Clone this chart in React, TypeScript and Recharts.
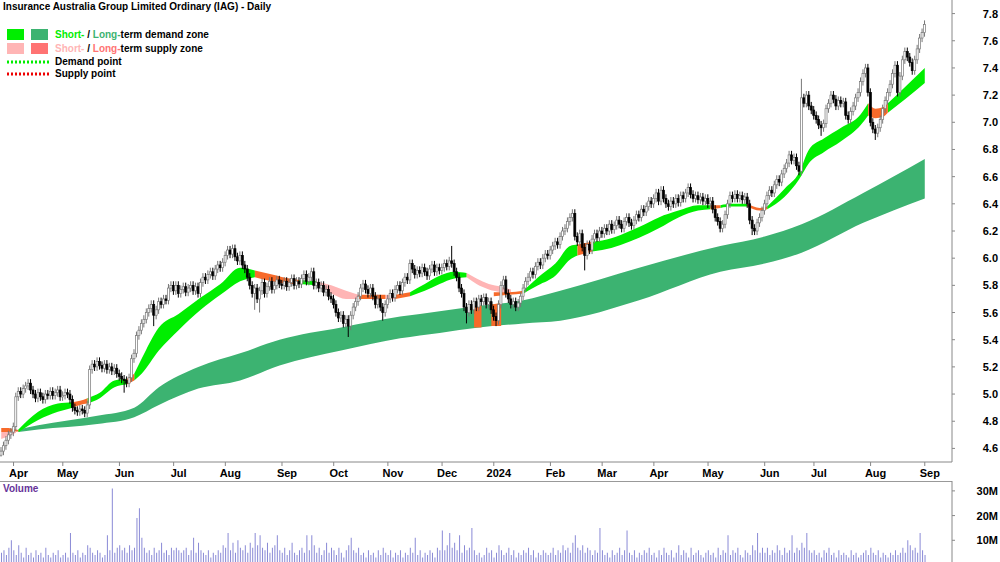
import React from "react"
import { Area, Bar, ComposedChart, XAxis, YAxis } from "recharts"

// daily closes, one list per month
const mar23 = [4.58, 4.62, 4.66, 4.70, 4.72]
const apr23 = [4.76, 4.98, 5.02, 5.00, 5.04, 5.06, 5.08, 5.03, 5.00, 4.97, 5.01, 4.98, 4.96, 5.00, 4.99, 5.02, 4.99, 5.01, 5.03, 4.98]
const may23 = [4.99, 5.01, 5.00, 4.96, 4.90, 4.88, 4.87, 4.89, 4.88, 4.86, 4.92, 5.18, 5.22, 5.20, 5.24, 5.21, 5.19, 5.22, 5.18, 5.20, 5.17, 5.19, 5.15]
const jun23 = [5.13, 5.11, 5.10, 5.08, 5.12, 5.26, 5.30, 5.43, 5.47, 5.52, 5.55, 5.60, 5.63, 5.66, 5.58, 5.62, 5.68, 5.66, 5.70, 5.69, 5.78, 5.80]
const jul23 = [5.76, 5.80, 5.74, 5.77, 5.79, 5.75, 5.78, 5.80, 5.76, 5.79, 5.74, 5.82, 5.86, 5.84, 5.88, 5.90, 5.87, 5.92, 5.95, 5.93, 5.97]
const aug23 = [6.02, 6.06, 6.03, 6.07, 6.01, 5.98, 6.02, 5.95, 5.92, 5.86, 5.80, 5.74, 5.78, 5.70, 5.76, 5.82, 5.74, 5.79, 5.83, 5.77, 5.80, 5.84, 5.81]
const sep23 = [5.80, 5.83, 5.79, 5.82, 5.85, 5.80, 5.83, 5.81, 5.85, 5.88, 5.83, 5.86, 5.90, 5.80, 5.82, 5.78, 5.80, 5.75, 5.77, 5.72, 5.70]
const oct23 = [5.66, 5.60, 5.56, 5.58, 5.52, 5.55, 5.50, 5.58, 5.64, 5.68, 5.72, 5.78, 5.81, 5.77, 5.74, 5.78, 5.72, 5.66, 5.70, 5.64, 5.60, 5.66]
const nov23 = [5.70, 5.74, 5.71, 5.77, 5.80, 5.76, 5.82, 5.86, 5.84, 5.96, 5.92, 5.88, 5.91, 5.89, 5.93, 5.90, 5.87, 5.92, 5.95, 5.90, 5.93, 5.91]
const dec23 = [5.93, 5.96, 5.94, 5.98, 5.96, 5.90, 5.86, 5.78, 5.74, 5.64, 5.60, 5.66, 5.62, 5.68, 5.64, 5.70, 5.68, 5.71, 5.66, 5.68, 5.62]
const jan24 = [5.57, 5.54, 5.66, 5.80, 5.84, 5.74, 5.70, 5.66, 5.68, 5.64, 5.67, 5.72, 5.78, 5.83, 5.86, 5.90, 5.88, 5.94, 5.97, 5.95, 6.00, 6.03, 6.02]
const feb24 = [6.06, 6.09, 6.12, 6.10, 6.16, 6.20, 6.22, 6.27, 6.30, 6.33, 6.16, 6.12, 6.18, 6.08, 6.02, 6.10, 6.06, 6.14, 6.18, 6.15, 6.20]
const mar24 = [6.18, 6.22, 6.20, 6.25, 6.21, 6.24, 6.28, 6.25, 6.22, 6.27, 6.30, 6.26, 6.24, 6.28, 6.32, 6.30, 6.36, 6.34, 6.38, 6.42, 6.40]
const apr24 = [6.44, 6.48, 6.42, 6.50, 6.44, 6.40, 6.38, 6.42, 6.40, 6.44, 6.41, 6.46, 6.44, 6.48, 6.52, 6.47, 6.44, 6.46, 6.43, 6.45, 6.42, 6.44]
const may24 = [6.40, 6.42, 6.36, 6.30, 6.27, 6.22, 6.25, 6.32, 6.40, 6.46, 6.44, 6.47, 6.44, 6.46, 6.43, 6.45, 6.40, 6.28, 6.22, 6.20, 6.26, 6.30, 6.35]
const jun24 = [6.40, 6.46, 6.50, 6.48, 6.54, 6.58, 6.56, 6.62, 6.66, 6.70, 6.76, 6.72, 6.74, 6.68, 6.64, 7.18, 7.14, 7.20, 7.12, 7.09]
const jul24 = [7.05, 7.02, 6.98, 6.96, 6.99, 7.10, 7.14, 7.20, 7.17, 7.12, 7.16, 7.14, 7.15, 7.05, 7.02, 7.08, 7.12, 7.18, 7.22, 7.30, 7.36, 7.40, 7.22]
const aug24 = [7.00, 6.95, 6.92, 6.96, 7.02, 7.10, 7.16, 7.22, 7.28, 7.36, 7.42, 7.22, 7.34, 7.46, 7.52, 7.48, 7.44, 7.38, 7.46, 7.54, 7.62, 7.66]
const sep24 = [7.72]

// daily volume in millions, same months
const volMar23 = [5, 6, 4, 7, 10]
const volApr23 = [6, 4, 8, 5, 3, 7, 4, 5, 3, 6, 4, 5, 3, 7, 4, 3, 5, 4, 6, 3]
const volMay23 = [4, 5, 3, 13, 5, 4, 6, 3, 5, 4, 8, 7, 5, 4, 6, 5, 3, 4, 12, 6, 31, 5, 7]
const volJun23 = [8, 6, 7, 5, 8, 6, 7, 19, 23, 11, 7, 5, 6, 4, 7, 5, 6, 9, 5, 6, 4, 7]
const volJul23 = [6, 7, 6, 5, 6, 7, 4, 6, 11, 5, 9, 6, 5, 4, 6, 3, 5, 4, 6, 5, 8]
const volAug23 = [7, 13, 6, 9, 5, 10, 7, 6, 8, 5, 9, 7, 13, 8, 12, 7, 6, 9, 5, 7, 8, 12, 6]
const volSep23 = [5, 7, 4, 6, 9, 5, 4, 6, 7, 5, 12, 6, 12, 8, 5, 7, 4, 6, 9, 5, 7]
const volOct23 = [6, 4, 7, 5, 3, 6, 8, 11, 6, 5, 7, 4, 5, 3, 6, 4, 5, 3, 6, 4, 7, 5]
const volNov23 = [4, 6, 3, 5, 4, 6, 3, 5, 4, 7, 5, 11, 4, 6, 3, 5, 4, 6, 5, 3, 7, 6]
const volDec23 = [14, 6, 8, 13, 7, 9, 6, 12, 5, 8, 6, 7, 15, 6, 4, 5, 3, 4, 7, 5, 6]
const volJan24 = [3, 5, 8, 6, 4, 5, 7, 4, 6, 3, 5, 4, 6, 5, 7, 4, 6, 3, 5, 4, 6, 5, 4]
const volFeb24 = [5, 7, 4, 6, 5, 8, 6, 7, 5, 9, 12, 7, 6, 8, 5, 7, 6, 4, 6, 5, 15]
const volMar24 = [6, 4, 5, 3, 6, 4, 5, 7, 4, 6, 14, 5, 4, 6, 3, 5, 4, 6, 5, 7, 4]
const volApr24 = [5, 3, 6, 4, 7, 5, 4, 6, 3, 5, 8, 4, 6, 5, 3, 7, 4, 5, 6, 4, 3, 5]
const volMay24 = [6, 4, 5, 3, 7, 4, 6, 5, 12, 4, 6, 5, 7, 4, 3, 6, 5, 4, 8, 6, 13, 5, 7]
const volJun24 = [5, 7, 4, 6, 5, 8, 6, 4, 7, 5, 6, 12, 5, 7, 6, 9, 7, 13, 6, 5]
const volJul24 = [6, 4, 5, 3, 6, 5, 7, 4, 5, 3, 6, 4, 5, 4, 3, 6, 4, 5, 3, 4, 5, 6, 4]
const volAug24 = [7, 5, 4, 6, 3, 5, 4, 3, 5, 4, 6, 4, 5, 7, 5, 10, 8, 6, 7, 5, 13, 6]
const volSep24 = [4]

// candles with a long tail: [date, high, low]
const longWicks: [string, number | null, number | null][] = [
    ["2023-03-27", null, 4.54],
    ["2023-06-05", null, 5.01],
    ["2023-06-21", null, 5.50],
    ["2023-08-17", null, 5.62],
    ["2023-08-21", null, 5.60],
    ["2023-10-10", null, 5.42],
    ["2023-10-30", null, 5.54],
    ["2023-12-07", 6.09, null],
    ["2023-12-15", null, 5.52],
    ["2024-01-02", null, 5.50],
    ["2024-02-21", null, 5.91],
    ["2024-05-27", null, 6.17],
    ["2024-06-24", 7.32, null],
    ["2024-07-04", null, 6.90],
    ["2024-08-05", null, 6.87],
]

// zones: [date, low, high]
type Pt = [string, number, number]
const ltDemand: Pt[] = [
    ["2023-04-05", 4.72, 4.74], ["2023-04-17", 4.74, 4.77], ["2023-05-19", 4.78, 4.84],
    ["2023-06-09", 4.83, 4.90], ["2023-06-23", 4.92, 5.05], ["2023-07-17", 5.04, 5.20],
    ["2023-08-09", 5.10, 5.30], ["2023-08-31", 5.21, 5.40], ["2023-10-05", 5.32, 5.49],
    ["2023-11-08", 5.41, 5.57], ["2023-11-30", 5.45, 5.61], ["2023-12-22", 5.49, 5.65],
    ["2024-01-17", 5.52, 5.69], ["2024-02-07", 5.54, 5.76], ["2024-03-22", 5.69, 5.93],
    ["2024-05-08", 5.90, 6.09], ["2024-06-03", 5.96, 6.16], ["2024-06-24", 6.04, 6.25],
    ["2024-07-29", 6.26, 6.48], ["2024-09-02", 6.44, 6.73],
]
const ltSupplyStart: Pt[] = [["2023-03-27", 4.72, 4.75], ["2023-03-30", 4.72, 4.75], ["2023-04-05", 4.725, 4.735]]
const ltSupplyDec: Pt[] = [["2023-12-20", 5.49, 5.65], ["2023-12-25", 5.49, 5.65]]
const ltSupplyJan: Pt[] = [["2023-12-29", 5.50, 5.66], ["2024-01-04", 5.50, 5.67]]

const stSupplyStart: Pt[] = [["2023-03-27", 4.67, 4.72], ["2023-03-30", 4.69, 4.72], ["2023-04-04", 4.715, 4.725]]
const stSupplySep: Pt[] = [["2023-09-21", 5.80, 5.83], ["2023-09-29", 5.74, 5.80], ["2023-10-09", 5.70, 5.76], ["2023-10-16", 5.70, 5.73]]
const stSupplyNov: Pt[] = [["2023-10-31", 5.70, 5.73], ["2023-11-06", 5.70, 5.73]]
const stSupplyDec: Pt[] = [["2023-12-15", 5.86, 5.89], ["2023-12-21", 5.81, 5.85], ["2023-12-28", 5.77, 5.81], ["2024-01-04", 5.75, 5.79], ["2024-01-10", 5.74, 5.77]]

const stDemandApr23: Pt[] = [["2023-04-05", 4.72, 4.74], ["2023-04-17", 4.81, 4.87], ["2023-04-27", 4.87, 4.93], ["2023-05-05", 4.90, 4.94]]
const stDemandMay23: Pt[] = [["2023-05-15", 4.93, 4.97], ["2023-05-22", 4.97, 5.01], ["2023-05-30", 5.05, 5.10], ["2023-06-06", 5.07, 5.11]]
const stDemandJun23: Pt[] = [
    ["2023-06-09", 5.10, 5.15], ["2023-06-14", 5.15, 5.26], ["2023-06-23", 5.32, 5.49], ["2023-07-05", 5.47, 5.59],
    ["2023-07-18", 5.62, 5.71], ["2023-07-28", 5.73, 5.81], ["2023-08-09", 5.83, 5.93], ["2023-08-17", 5.86, 5.91],
]
const stDemandSep23: Pt[] = [["2023-09-12", 5.81, 5.84], ["2023-09-21", 5.80, 5.83]]
const stDemandNov23: Pt[] = [["2023-11-14", 5.72, 5.75], ["2023-11-22", 5.76, 5.81], ["2023-11-30", 5.81, 5.87], ["2023-12-08", 5.85, 5.90], ["2023-12-15", 5.86, 5.89]]
const stDemandJan24: Pt[] = [["2024-01-17", 5.74, 5.76], ["2024-01-25", 5.80, 5.86], ["2024-02-05", 5.87, 5.96], ["2024-02-13", 5.99, 6.09], ["2024-02-16", 6.02, 6.10]]
const stDemandFeb24: Pt[] = [
    ["2024-02-26", 6.05, 6.12], ["2024-03-01", 6.06, 6.13], ["2024-03-22", 6.15, 6.23], ["2024-04-03", 6.22, 6.30],
    ["2024-04-15", 6.30, 6.35], ["2024-04-25", 6.35, 6.39], ["2024-05-02", 6.36, 6.39],
]
const stDemandMay24: Pt[] = [["2024-05-08", 6.37, 6.39], ["2024-05-15", 6.38, 6.40], ["2024-05-23", 6.38, 6.40]]
const stDemandJun24: Pt[] = [
    ["2024-06-04", 6.36, 6.38], ["2024-06-13", 6.45, 6.51], ["2024-06-21", 6.58, 6.63], ["2024-06-27", 6.70, 6.80],
    ["2024-07-05", 6.78, 6.88], ["2024-07-16", 6.86, 6.96], ["2024-07-26", 6.98, 7.06], ["2024-07-31", 7.05, 7.14],
]
const stDemandAug24: Pt[] = [["2024-08-12", 7.07, 7.14], ["2024-08-21", 7.17, 7.26], ["2024-09-02", 7.29, 7.40]]

const stWeakMay23: Pt[] = [["2023-05-05", 4.90, 4.94], ["2023-05-10", 4.92, 4.95], ["2023-05-15", 4.93, 4.97]]
const stWeakJun23: Pt[] = [["2023-06-06", 5.07, 5.11], ["2023-06-09", 5.10, 5.15]]
const stWeakAug23: Pt[] = [["2023-08-17", 5.86, 5.91], ["2023-08-28", 5.83, 5.88], ["2023-09-06", 5.81, 5.85], ["2023-09-12", 5.81, 5.84]]
const stWeakOct23: Pt[] = [["2023-10-16", 5.70, 5.73], ["2023-10-23", 5.70, 5.73], ["2023-10-31", 5.70, 5.73]]
const stWeakNov23: Pt[] = [["2023-11-06", 5.70, 5.73], ["2023-11-14", 5.72, 5.75]]
const stWeakJan24: Pt[] = [["2024-01-01", 5.72, 5.75], ["2024-01-09", 5.73, 5.75], ["2024-01-17", 5.74, 5.76]]
const stWeakFeb24: Pt[] = [["2024-02-16", 6.02, 6.10], ["2024-02-26", 6.05, 6.12]]
const stWeakMay24a: Pt[] = [["2024-05-02", 6.36, 6.39], ["2024-05-08", 6.37, 6.39]]
const stWeakMay24b: Pt[] = [["2024-05-23", 6.38, 6.40], ["2024-05-30", 6.35, 6.37], ["2024-06-04", 6.36, 6.38]]
const stWeakAug24: Pt[] = [["2024-07-31", 7.05, 7.14], ["2024-08-05", 7.03, 7.10], ["2024-08-08", 7.04, 7.11], ["2024-08-12", 7.07, 7.14]]

const priceTicks = [4.6, 4.8, 5.0, 5.2, 5.4, 5.6, 5.8, 6.0, 6.2, 6.4, 6.6, 6.8, 7.0, 7.2, 7.4, 7.6, 7.8]
const volumeTicks = [10, 20, 30]
const monthNames = ["Jan", "Feb", "Mar", "Apr", "May", "Jun", "Jul", "Aug", "Sep", "Oct", "Nov", "Dec"]

const GREEN = "#00ee00"
const DARK = "#3cb371"
const PINK = "#ffb5b5"
const SALMON = "#ff7373"
const ORANGE = "#f76a2a"
const FONT = "'Liberation Sans', Arial, sans-serif"

const closes = [mar23, apr23, may23, jun23, jul23, aug23, sep23, oct23, nov23, dec23, jan24, feb24, mar24, apr24, may24, jun24, jul24, aug24, sep24].flat()
const volumes = [volMar23, volApr23, volMay23, volJun23, volJul23, volAug23, volSep23, volOct23, volNov23, volDec23, volJan24, volFeb24, volMar24, volApr24, volMay24, volJun24, volJul24, volAug24, volSep24].flat()

const zones: { pts: Pt[]; color: string; curve: "monotone" | "linear" }[] = [
    { pts: ltDemand, color: DARK, curve: "monotone" },
    { pts: ltSupplyStart, color: ORANGE, curve: "linear" },
    { pts: stSupplyStart, color: PINK, curve: "linear" },
    { pts: ltSupplyDec, color: ORANGE, curve: "linear" },
    { pts: ltSupplyJan, color: ORANGE, curve: "linear" },
    ...[stDemandApr23, stDemandMay23, stDemandJun23, stDemandSep23, stDemandNov23, stDemandJan24, stDemandFeb24, stDemandMay24, stDemandJun24, stDemandAug24]
        .map((pts) => ({ pts, color: GREEN, curve: "monotone" as const })),
    ...[stSupplySep, stSupplyNov, stSupplyDec].map((pts) => ({ pts, color: PINK, curve: "monotone" as const })),
    ...[stWeakMay23, stWeakJun23, stWeakAug23, stWeakOct23, stWeakNov23, stWeakJan24, stWeakFeb24, stWeakMay24a, stWeakMay24b, stWeakAug24]
        .map((pts) => ({ pts, color: ORANGE, curve: "monotone" as const })),
]

function tradingDays(start: string, n: number) {
    const out: string[] = []
    const d = new Date(start + "T00:00:00Z")
    while (out.length < n) {
        const wd = d.getUTCDay()
        if (wd !== 0 && wd !== 6) out.push(d.toISOString().slice(0, 10))
        d.setUTCDate(d.getUTCDate() + 1)
    }
    return out
}

const dates = tradingDays("2023-03-27", closes.length)
const wickMap = new Map(longWicks.map((w) => [w[0], w]))

const rows: any[] = dates.map((date, i) => {
    const close = closes[i]
    const open = i > 0 ? closes[i - 1] : close - 0.03
    const w = wickMap.get(date)
    const high = w?.[1] ?? Math.max(open, close) + 0.03
    const low = w?.[2] ?? Math.min(open, close) - 0.03
    return { date, open, close, high, low, range: [low, high], volume: volumes[i] }
})

const dateIndex = new Map(dates.map((d, i) => [d, i]))
zones.forEach((z, k) => {
    z.pts.forEach(([d, lo, hi]) => {
        const i = dateIndex.get(d)
        if (i !== undefined) rows[i][`z${k}`] = [lo, hi]
    })
})

const monthTicks = dates.filter((d, i) => i > 0 && d.slice(5, 7) !== dates[i - 1].slice(5, 7))

const monthLabel = (d: string) => {
    const m = Number(d.slice(5, 7))
    return m === 1 ? d.slice(0, 4) : monthNames[m - 1]
}

function Candle(props: any) {
    const { x, y, width, height, payload } = props
    if (!payload) return null
    const top = Math.min(y, y + height)
    const h = Math.abs(height)
    const { open, close, high, low } = payload
    const k = h / (high - low)
    const bodyTop = top + (high - Math.max(open, close)) * k
    const bodyH = Math.max(Math.abs(close - open) * k, 1.5)
    const cx = x + width / 2
    const up = close >= open
    const col = up ? "#777777" : "#000"
    return (
        <g>
            <line x1={cx} x2={cx} y1={top} y2={top + h} stroke={col} strokeWidth={1} />
            <rect x={cx - 1} y={bodyTop} width={2} height={bodyH} fill={up ? "#fff" : "#000"} stroke={col} strokeWidth={0.7} />
        </g>
    )
}

const PriceTick = (p: any) => (
    <text x={p.x + 41} y={p.y + 4} textAnchor="end" fontSize={11} fontWeight="bold" fontFamily={FONT} fill="#000">
        {Number(p.payload.value).toFixed(1)}
    </text>
)

const VolumeTick = (p: any) => (
    <text x={p.x + 41} y={p.y + 4} textAnchor="end" fontSize={11} fontWeight="bold" fontFamily={FONT} fill="#000">
        {p.payload.value}M
    </text>
)

const MonthTick = (p: any) => (
    <text x={p.x + 5} y={p.y + 9} textAnchor="middle" fontSize={11} fontWeight="bold" fontFamily={FONT} fill="#000">
        {monthLabel(p.payload.value)}
    </text>
)

function Dots({ color }: { color: string }) {
    return (
        <svg width={42} height={4} style={{ position: "absolute", left: 7, top: 0 }}>
            <line x1={0} x2={42} y1={2} y2={2} stroke={color} strokeWidth={3} strokeDasharray="2 2" />
        </svg>
    )
}

function Legend() {
    const text: React.CSSProperties = { position: "absolute", left: 55, top: -4, font: `bold 10px ${FONT}`, whiteSpace: "nowrap", lineHeight: "12px" }
    const box = (left: number, color: string): React.CSSProperties => ({ position: "absolute", left, top: 0, width: 17, height: 11, background: color })
    return (
        <>
            <div style={{ position: "absolute", left: 3, top: 1, font: `bold 10px ${FONT}`, lineHeight: "12px", whiteSpace: "nowrap" }}>
                Insurance Australia Group Limited Ordinary (IAG) - Daily
            </div>
            <div style={{ position: "absolute", left: 0, top: 29 }}>
                <div style={box(7, GREEN)} />
                <div style={box(31, DARK)} />
                <div style={{ ...text, top: 0 }}>
                    <span style={{ color: GREEN }}>Short-</span> / <span style={{ color: DARK }}>Long-</span>term demand zone
                </div>
            </div>
            <div style={{ position: "absolute", left: 0, top: 43 }}>
                <div style={box(7, PINK)} />
                <div style={box(31, SALMON)} />
                <div style={{ ...text, top: 0 }}>
                    <span style={{ color: PINK }}>Short-</span> / <span style={{ color: SALMON }}>Long-</span>term supply zone
                </div>
            </div>
            <div style={{ position: "absolute", left: 0, top: 60 }}>
                <Dots color={GREEN} />
                <div style={text}>Demand point</div>
            </div>
            <div style={{ position: "absolute", left: 0, top: 72 }}>
                <Dots color="#ee0000" />
                <div style={text}>Supply point</div>
            </div>
        </>
    )
}

export default function App() {
    return (
        <div style={{ position: "fixed", left: 0, top: 0, width: 1000, height: 562, overflow: "hidden", background: "#fff" }}>
            <div style={{ position: "absolute", left: 0, top: 0 }}>
                <ComposedChart width={1000} height={481} data={rows} margin={{ top: 0, right: 0, bottom: 0, left: 0 }} barCategoryGap={0}>
                    <XAxis
                        dataKey="date"
                        ticks={monthTicks}
                        interval={0}
                        height={19}
                        padding={{ left: 0, right: 26 }}
                        stroke="#888888"
                        tickSize={4}
                        tick={MonthTick}
                    />
                    <YAxis
                        orientation="right"
                        width={48}
                        domain={[4.5, 7.9]}
                        ticks={priceTicks}
                        allowDataOverflow
                        stroke="#888888"
                        tickSize={3}
                        tick={PriceTick}
                    />
                    {zones.map((z, k) => (
                        <Area
                            key={k}
                            dataKey={`z${k}`}
                            type={z.curve}
                            connectNulls
                            stroke="none"
                            fill={z.color}
                            fillOpacity={1}
                            dot={false}
                            activeDot={false}
                            isAnimationActive={false}
                        />
                    ))}
                    <Bar dataKey="range" shape={<Candle />} isAnimationActive={false} />
                </ComposedChart>
            </div>
            <div style={{ position: "absolute", left: 0, top: 481, width: 952, borderTop: "1px solid #999" }} />
            <div style={{ position: "absolute", left: 3, top: 483, font: `bold 10px ${FONT}`, color: "#663399" }}>Volume</div>
            <div style={{ position: "absolute", left: 0, top: 481 }}>
                <ComposedChart width={1000} height={84} data={rows} margin={{ top: 0, right: 0, bottom: 0, left: 0 }}>
                    <XAxis dataKey="date" hide padding={{ left: 0, right: 26 }} />
                    <YAxis
                        orientation="right"
                        width={48}
                        domain={[0, 34]}
                        ticks={volumeTicks}
                        allowDataOverflow
                        stroke="#888888"
                        tickSize={3}
                        tick={VolumeTick}
                    />
                    <Bar dataKey="volume" fill="#8a8ad6" barSize={1} isAnimationActive={false} />
                </ComposedChart>
            </div>
            <Legend />
        </div>
    )
}
